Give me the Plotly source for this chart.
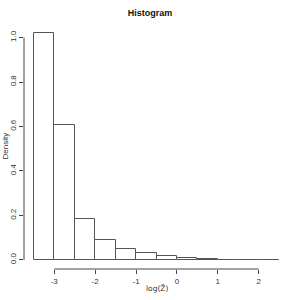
import plotly.graph_objects as go

# Bin edges and density values
bin_edges = [-3.5, -3.0, -2.5, -2.0, -1.5, -1.0, -0.5, 0.0, 0.5, 1.0, 1.5, 2.0, 2.5]
density = [1.02, 0.607, 0.183, 0.090, 0.048, 0.030, 0.017, 0.008, 0.003, 0.0015, 0.0006, 0.0003]
x_ticks = [-3, -2, -1, 0, 1, 2]
y_ticks = [0.0, 0.2, 0.4, 0.6, 0.8, 1.0]
y_tick_labels = ["0.0", "0.2", "0.4", "0.6", "0.8", "1.0"]

centers = [(a + b) / 2 for a, b in zip(bin_edges[:-1], bin_edges[1:])]
widths = [b - a for a, b in zip(bin_edges[:-1], bin_edges[1:])]

xr = bin_edges[-1] - bin_edges[0]
xrange = [bin_edges[0] - 0.04 * xr, bin_edges[-1] + 0.04 * xr]
ymax = max(density)
yrange = [-0.04 * ymax, ymax * 1.04]

font = "Liberation Sans, Arial, sans-serif"
axcol = "#444444"

fig = go.Figure()
fig.add_trace(go.Bar(
    x=centers, y=density, width=widths,
    marker=dict(color="white", line=dict(color="#555555", width=1)),
    hoverinfo="skip",
))

fig.update_layout(
    width=300, height=300,
    margin=dict(l=24, r=11, t=24, b=31, autoexpand=False),
    paper_bgcolor="white", plot_bgcolor="white",
    showlegend=False,
    bargap=0,
    font=dict(family=font, size=8, color="#333333"),
    title=dict(text="<b>Histogram</b>", x=0.5, xanchor="center", y=1 - 13 / 300,
               yanchor="middle", font=dict(family=font, size=9, color="#111111")),
)
fig.update_xaxes(
    range=xrange, tickvals=x_ticks, ticktext=[str(t) for t in x_ticks],
    ticks="outside", ticklen=4, tickcolor=axcol, showline=False, automargin=False,
    showgrid=False, zeroline=False, tickfont=dict(size=8, color="#333333"),
)
fig.update_yaxes(
    range=yrange, tickvals=y_ticks, ticktext=y_tick_labels,
    ticks="outside", ticklen=4, tickcolor=axcol, showline=False, automargin=False,
    showgrid=False, zeroline=False, tickangle=-90, tickfont=dict(size=8, color="#333333"),
)

# R-style axis lines spanning first to last tick
fig.add_shape(type="line", xref="x", yref="paper", x0=x_ticks[0], x1=x_ticks[-1],
              y0=0, y1=0, line=dict(color=axcol, width=1))
fig.add_shape(type="line", xref="paper", yref="y", x0=0, x1=0,
              y0=y_ticks[0], y1=y_ticks[-1], line=dict(color=axcol, width=1))

fig.add_annotation(text="log(Z\u0304)", xref="paper", yref="paper", x=0.5, y=-19 / 245,
                   showarrow=False, yanchor="middle", font=dict(size=7.5, family="DejaVu Sans"))
fig.add_annotation(text="Density", xref="paper", yref="paper", x=-19 / 265, y=0.5,
                   textangle=-90, showarrow=False, xanchor="center", font=dict(size=8))

fig.write_html("out.html", config={"displayModeBar": False},
               post_script="document.body.style.margin='0';")
